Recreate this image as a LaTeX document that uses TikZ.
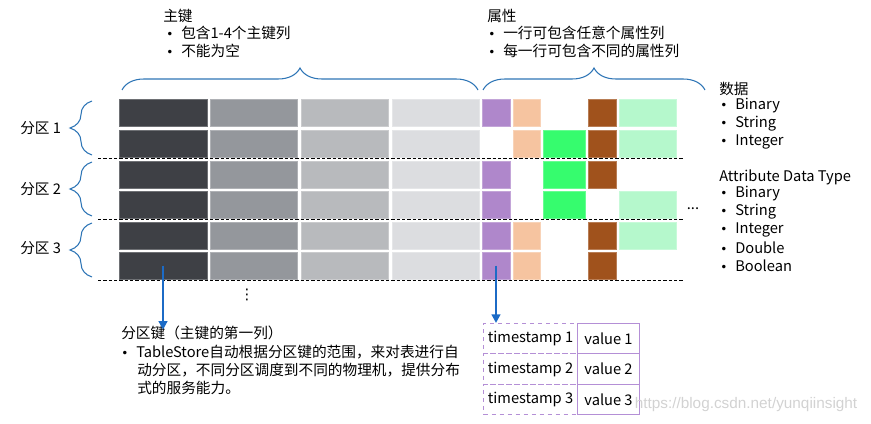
\documentclass[tikz,border=0pt]{standalone}
\usepackage{fontspec}
\setmainfont{Noto Sans CJK SC}
\newfontfamily\wmfont{Liberation Sans}
\newfontfamily\symfont{DejaVu Sans}
\usetikzlibrary{arrows.meta, positioning, calc, decorations.pathreplacing}
\usepackage{xcolor}
\definecolor{pkA}{HTML}{3E4045}
\definecolor{pkB}{HTML}{94979C}
\definecolor{pkC}{HTML}{B8BABD}
\definecolor{pkD}{HTML}{DCDDE0}
\definecolor{atPurple}{HTML}{AF87CB}
\definecolor{atPeach}{HTML}{F6C4A0}
\definecolor{atGreen}{HTML}{36FC6E}
\definecolor{atBrown}{HTML}{A0521C}
\definecolor{atMint}{HTML}{B5F8CC}
\definecolor{braceblue}{HTML}{2E75B6}
\definecolor{arrowblue}{HTML}{1C6BC6}
\definecolor{tsPurple}{HTML}{B48FD6}
\newcommand{\bl}[1]{\makebox[11.25pt][l]{\symfont\small •}#1}

\begin{document}
\begin{tikzpicture}[x=0.75pt, y=-0.75pt, font=\fontsize{11}{13}\selectfont,
  cell/.style={anchor=north west, inner sep=0pt, outer sep=0pt,
    minimum height=20.25pt, fill=#1, draw=#1!75!white, line width=0.5pt},
  txt/.style={anchor=west, inner sep=0pt},
  pbrace/.style={decorate, decoration={brace, amplitude=16.5pt},
    draw=braceblue, line width=0.8pt},
  sep/.style={dash pattern=on 2.5pt off 1.5pt, line width=0.7pt},
  down/.style={-{Triangle[width=6.5pt, length=6.5pt]}, draw=arrowblue, line width=2.2pt},
  tsbox/.style={anchor=north west, inner sep=0pt, minimum height=22.75pt,
    draw=tsPurple, line width=0.8pt}]
  \useasboundingbox (0,0) rectangle (871,424);

  % Primary key columns
  \foreach \r/\y in {1/99,2/130,3/161,4/191,5/222,6/252}{
    \node[cell=pkA, minimum width=66pt] (c1r\r) at (119,\y) {};
    \node[cell=pkB, minimum width=65.25pt] (c2r\r) at (210,\y) {};
    \node[cell=pkC, minimum width=65.25pt] (c3r\r) at (301,\y) {};
    \node[cell=pkD, minimum width=65.25pt] (c4r\r) at (392,\y) {};
  }

  % Attribute columns
  \foreach \r/\y in {1/99,3/161,4/191,5/222,6/252}
    \node[cell=atPurple, minimum width=21pt] (a1r\r) at (482,\y) {};
  \foreach \r/\y in {1/99,2/130,5/222,6/252}
    \node[cell=atPeach, minimum width=20.25pt] (a2r\r) at (513,\y) {};
  \foreach \r/\y in {2/130,3/161,4/191}
    \node[cell=atGreen, minimum width=31.5pt] (a3r\r) at (543,\y) {};
  \foreach \r/\y in {1/99,2/130,3/161,5/222,6/252}
    \node[cell=atBrown, minimum width=21pt] (a4r\r) at (588,\y) {};
  \foreach \r/\y in {1/99,2/130,4/191,5/222}
    \node[cell=atMint, minimum width=42.75pt] (a5r\r) at (619,\y) {};

  % Partition lines
  \draw[sep] (98,158.5) -- (683,158.5);
  \draw[sep] (98,219.5) -- (683,219.5);
  \draw[sep] (98,280) -- (683,280);

  % Braces
  \draw[pbrace] (122,90) -- (478,90);
  \draw[pbrace] (483,90) -- (705,90);
  \draw[pbrace] (92,155) -- (92,101);
  \draw[pbrace] (92,216) -- (92,162);
  \draw[pbrace] (92,277) -- (92,223);

  \node[txt] (p1) at (20,128) {分区 1};
  \node[txt] (p2) at (20,189) {分区 2};
  \node[txt] (p3) at (20,248) {分区 3};

  % Top notes
  \node[txt] (pk) at (163,16) {主键};
  \node[txt] (pkA) at (166,33) {\bl{包含1-4个主键列}};
  \node[txt] (pkB) at (166,51) {\bl{不能为空}};
  \node[txt] (at) at (487,16) {属性};
  \node[txt] (atA) at (488,33) {\bl{一行可包含任意个属性列}};
  \node[txt] (atB) at (488,51) {\bl{每一行可包含不同的属性列}};

  % Data types
  \node[txt] (dt) at (719,89) {数据};
  \node[txt] (dtA) at (720,106) {\bl{Binary}};
  \node[txt] (dtB) at (720,124) {\bl{String}};
  \node[txt] (dtC) at (720,142) {\bl{Integer}};
  \node[txt] (adt) at (719,177) {Attribute Data Type};
  \node[txt] (adtA) at (720,194) {\bl{Binary}};
  \node[txt] (adtB) at (720,212) {\bl{String}};
  \node[txt] (adtC) at (720,230) {\bl{Integer}};
  \node[txt] (adtD) at (720,248) {\bl{Double}};
  \node[txt] (adtE) at (720,266) {\bl{Boolean}};

  \node (hdots) at (693,209) {...};
  \node[font=\symfont\fontsize{11}{13}\selectfont] (vdots) at (247,295) {⋮};

  % Partition key note
  \node[txt] (pkey) at (121,333) {分区键（主键的第一列）};
  \node[txt] (pkeyA) at (121,352) {\bl{TableStore自动根据分区键的范围，来对表进行自}};
  \node[txt] (pkeyB) at (137,370) {动分区，不同分区调度到不同的物理机，提供分布};
  \node[txt] (pkeyC) at (137,388) {式的服务能力。};

  % Versions
  \foreach \i/\y in {1/323,2/353.3,3/383.7}{
    \node[tsbox, dashed, minimum width=70.5pt] (ts\i) at (483,\y) {timestamp \i};
    \node[tsbox, minimum width=46.5pt] (val\i) at (577,\y) {value \i};
  }

  \draw[down] (c1r6.center) -- ([yshift=-3pt]c1r6.center |- pkey.north);
  \draw[down] (a1r6.center) -- (a1r6.center |- ts1.north);

  \node[text=gray!35, font=\wmfont\fontsize{11.5}{13}\selectfont] (wm) at (746,405)
    {https://blog.csdn.net/yunqiinsight};
\end{tikzpicture}
\end{document}
